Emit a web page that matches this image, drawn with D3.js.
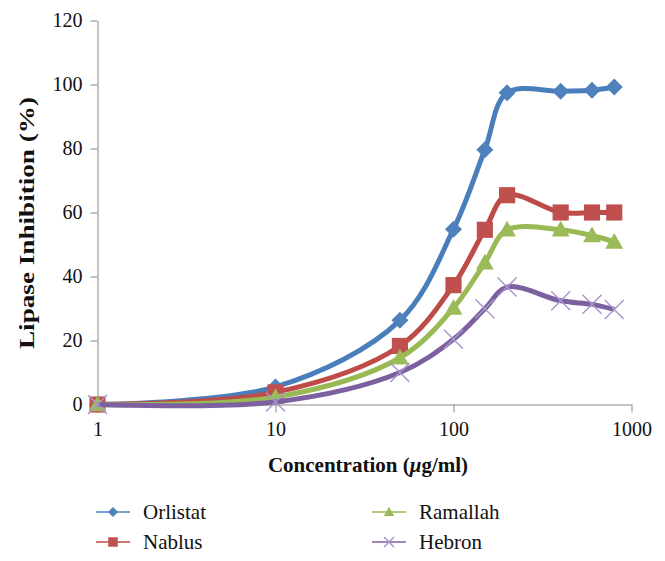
<!DOCTYPE html>
<html><head><meta charset="utf-8">
<script src="https://cdn.jsdelivr.net/npm/d3@7"></script>
<style>body{margin:0;background:#fff}</style></head>
<body><svg id="c" width="665" height="561"></svg>
<script>
const concentrations = [1, 10, 50, 100, 150, 200, 400, 600, 800];
const seriesNames = ["Orlistat", "Nablus", "Ramallah", "Hebron"];
const orlistat = [0, 5.5, 26.3, 54.8, 79.6, 97.4, 97.9, 98.2, 99.2];
const nablus   = [0, 3.8, 18.3, 37.3, 54.6, 65.4, 60, 60, 60];
const ramallah = [0, 2.3, 14.6, 30.2, 44.3, 54.6, 54.6, 52.8, 50.8];
const hebron   = [0, 0.8, 10, 20.4, 29.9, 36.7, 32.4, 31.3, 29.7];
const yTicks = [0, 20, 40, 60, 80, 100, 120];
const xTicks = [1, 10, 100, 1000];

const values = [orlistat, nablus, ramallah, hebron];
const lineColors = ["#4A7EBB", "#BE4B48", "#98B954", "#7D60A0"];
const markerColors = ["#4F81BD", "#C0504D", "#9BBB59", "#A797CC"];
const markerTypes = ["diamond", "square", "triangle", "x"];

const svg = d3.select("#c");
const x = d3.scaleLog().domain([1, 1000]).range([97.5, 631.5]);
const y = d3.scaleLinear().domain([0, 120]).range([404.5, 20.5]);
const serif = "'Liberation Serif', 'DejaVu Serif', serif";
const axisColor = "#898989";

// Y axis
const gy = svg.append("g").attr("transform", "translate(97.5,0)")
  .call(d3.axisLeft(y).tickValues(yTicks).tickSize(7).tickSizeOuter(0).tickPadding(8));
gy.select(".domain").attr("stroke", axisColor);
gy.selectAll(".tick line").attr("stroke", axisColor);
gy.selectAll(".tick text").style("font-family", serif).attr("font-size", 20).attr("fill", "#111");

// X axis
const gx = svg.append("g").attr("transform", "translate(0,404.5)")
  .call(d3.axisBottom(x).tickValues(xTicks).tickFormat(d3.format("d")).tickSize(8).tickSizeOuter(0).tickPadding(9));
gx.select(".domain").attr("stroke", axisColor);
gx.selectAll(".tick line").attr("stroke", axisColor);
gx.selectAll(".tick text").style("font-family", serif).attr("font-size", 20).attr("fill", "#111");

// Axis titles
svg.append("text").attr("x", 368).attr("y", 472).attr("text-anchor", "middle")
  .style("font-family", serif).attr("font-size", 21).attr("font-weight", "bold").attr("fill", "#111")
  .call(t => {
    t.append("tspan").text("Concentration (");
    t.append("tspan").attr("font-style", "italic").text("μ");
    t.append("tspan").text("g/ml)");
  });
svg.append("text").attr("transform", "translate(34,223) rotate(-90)").attr("text-anchor", "middle")
  .style("font-family", serif).attr("font-size", 22).attr("font-weight", "bold").attr("fill", "#111")
  .attr("textLength", 252).attr("lengthAdjust", "spacingAndGlyphs")
  .text("Lipase Inhibition (%)");

function marker(g, type, color, s) {
  if (type === "diamond") {
    g.append("path").attr("d", `M0,${-s}L${s},0L0,${s}L${-s},0Z`).attr("fill", color);
  } else if (type === "square") {
    const h = s * 0.95;
    g.append("rect").attr("x", -h).attr("y", -h).attr("width", 2 * h).attr("height", 2 * h).attr("fill", color);
  } else if (type === "triangle") {
    g.append("path").attr("d", `M0,${-s * 1.05}L${s * 1.05},${s * 0.8}L${-s * 1.05},${s * 0.8}Z`).attr("fill", color);
  } else {
    g.append("path").attr("d", `M${-s},${-s}L${s},${s}M${-s},${s}L${s},${-s}`)
      .attr("stroke", color).attr("stroke-width", 1.5).attr("fill", "none");
  }
}

const line = d3.line().x(d => x(d[0])).y(d => y(d[1])).curve(d3.curveCatmullRom.alpha(0.5));

values.forEach((vals, i) => {
  const pts = concentrations.map((c, j) => [c, vals[j]]);
  svg.append("path").datum(pts).attr("d", line).attr("fill", "none")
    .attr("stroke", lineColors[i]).attr("stroke-width", 5).attr("stroke-linejoin", "round");
  pts.forEach(p => {
    const g = svg.append("g").attr("transform", `translate(${x(p[0])},${y(p[1])})`);
    marker(g, markerTypes[i], markerColors[i], markerTypes[i] === "x" ? 9.5 : 8.5);
  });
});

// Legend
const legendPos = [[96, 512], [96, 542], [372, 512], [372, 542]];
seriesNames.forEach((name, i) => {
  const [lx, ly] = legendPos[i];
  svg.append("line").attr("x1", lx).attr("x2", lx + 34).attr("y1", ly).attr("y2", ly)
    .attr("stroke", lineColors[i]).attr("stroke-width", 1.6);
  const g = svg.append("g").attr("transform", `translate(${lx + 17},${ly})`);
  marker(g, markerTypes[i], markerColors[i], 5);
  svg.append("text").attr("x", lx + 47).attr("y", ly + 7)
    .style("font-family", serif).attr("font-size", 21).attr("fill", "#111").text(name);
});
</script></body></html>
